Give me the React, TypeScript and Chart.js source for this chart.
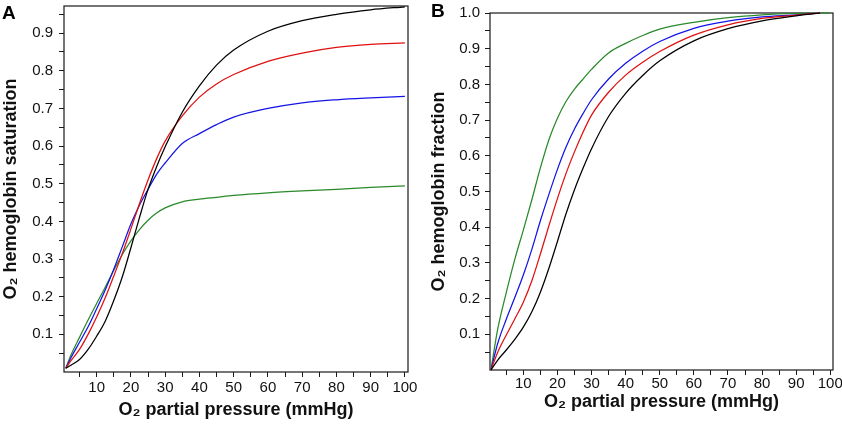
import React, { useEffect, useRef } from "react";
import { Chart, registerables } from "chart.js";

Chart.register(...registerables);

// ---------- Panel A data ----------
const xA = [1, 2.5, 5, 7.5, 10, 12.5, 15, 17.5, 20, 22.5, 25, 27.5, 30, 35, 40, 45, 50, 60, 70, 80, 90, 100];
const blackA = [0.01, 0.018, 0.033, 0.06, 0.095, 0.135, 0.19, 0.253, 0.33, 0.41, 0.485, 0.545, 0.598, 0.69, 0.76, 0.815, 0.855, 0.905, 0.933, 0.95, 0.962, 0.97];
const redA = [0.01, 0.03, 0.06, 0.1, 0.146, 0.197, 0.255, 0.315, 0.38, 0.447, 0.51, 0.566, 0.613, 0.68, 0.73, 0.765, 0.79, 0.825, 0.847, 0.862, 0.87, 0.874];
const blueA = [0.01, 0.038, 0.079, 0.12, 0.168, 0.218, 0.273, 0.333, 0.393, 0.443, 0.485, 0.525, 0.555, 0.607, 0.633, 0.657, 0.677, 0.7, 0.715, 0.723, 0.728, 0.732];
const greenA = [0.01, 0.045, 0.092, 0.138, 0.182, 0.225, 0.27, 0.312, 0.348, 0.378, 0.403, 0.422, 0.436, 0.452, 0.459, 0.464, 0.469, 0.476, 0.481, 0.485, 0.49, 0.494];

// ---------- Panel B data ----------
const xB = [0.5, 2.5, 5, 7.5, 10, 12.5, 15, 17.5, 20, 22.5, 25, 27.5, 30, 35, 40, 45, 50, 60, 70, 80, 90, 97];
const xBGreen = [0.5, 2.5, 5, 7.5, 10, 12.5, 15, 17.5, 20, 22.5, 25, 27.5, 30, 35, 40, 45, 50, 60, 70, 80, 90, 100];
const blackB = [0, 0.028, 0.056, 0.086, 0.12, 0.163, 0.218, 0.285, 0.36, 0.437, 0.505, 0.565, 0.62, 0.71, 0.775, 0.825, 0.866, 0.922, 0.956, 0.978, 0.992, 1.0];
const redB = [0, 0.05, 0.098, 0.143, 0.19, 0.25, 0.325, 0.404, 0.48, 0.55, 0.611, 0.666, 0.714, 0.778, 0.826, 0.862, 0.892, 0.938, 0.967, 0.985, 0.994, 1.0];
const blueB = [0, 0.075, 0.142, 0.203, 0.266, 0.338, 0.418, 0.492, 0.562, 0.624, 0.675, 0.718, 0.757, 0.815, 0.859, 0.893, 0.92, 0.957, 0.977, 0.989, 0.995, 1.0];
const greenB = [0, 0.115, 0.217, 0.31, 0.392, 0.477, 0.566, 0.645, 0.705, 0.752, 0.787, 0.815, 0.842, 0.888, 0.915, 0.937, 0.955, 0.974, 0.987, 0.995, 0.999, 1.0];

// ---------- Ticks ----------
const xTickValues = [5, 10, 15, 20, 25, 30, 35, 40, 45, 50, 55, 60, 65, 70, 75, 80, 85, 90, 95, 100];
const yTicksA = [0.05, 0.1, 0.15, 0.2, 0.25, 0.3, 0.35, 0.4, 0.45, 0.5, 0.55, 0.6, 0.65, 0.7, 0.75, 0.8, 0.85, 0.9, 0.95];
const yTicksB = [0.05, 0.1, 0.15, 0.2, 0.25, 0.3, 0.35, 0.4, 0.45, 0.5, 0.55, 0.6, 0.65, 0.7, 0.75, 0.8, 0.85, 0.9, 0.95, 1.0];

const xTitle = "O\u2082 partial pressure (mmHg)";
const yTitleA = "O\u2082 hemoglobin saturation";
const yTitleB = "O\u2082 hemoglobin fraction";

const COLORS = { black: "#000000", red: "#e01010", blue: "#1414e6", green: "#2a8a2a" };
const FONT = "'Liberation Sans', Arial, Helvetica, sans-serif";

const framePlugin = {
  id: "frame",
  beforeDatasetsDraw(chart: any) {
    const { ctx, chartArea } = chart;
    const { left, top, right, bottom } = chartArea;
    ctx.save();
    ctx.strokeStyle = "#1a1a1a";
    ctx.lineWidth = 1.2;
    ctx.strokeRect(left, top, right - left, bottom - top);
    ctx.restore();
  },
};

function toPts(xs: number[], ys: number[]) {
  return xs.map((x, i) => ({ x, y: ys[i] }));
}

function ds(xs: number[], ys: number[], color: string) {
  return {
    data: toPts(xs, ys),
    borderColor: color,
    backgroundColor: color,
    borderWidth: 1.25,
    pointRadius: 0,
    cubicInterpolationMode: "monotone" as const,
    fill: false,
    clip: false as any,
  };
}

type PanelProps = {
  width: number;
  datasets: any[];
  xMin: number;
  xMax: number;
  yMax: number;
  yTicks: number[];
  yTitle: string;
  yAxisWidth: number;
  xAxisHeight: number;
  padTop: number;
  padRight: number;
  xLabelPad: number;
  yLabelPad: number;
  xTitlePad: number;
  yTitlePad: number;
};

function Panel(p: PanelProps) {
  const ref = useRef<HTMLCanvasElement | null>(null);
  useEffect(() => {
    if (!ref.current) return;
    const chart = new Chart(ref.current, {
      type: "line",
      data: { datasets: p.datasets },
      plugins: [framePlugin],
      options: {
        animation: false,
        responsive: false,
        devicePixelRatio: 1,
        layout: { padding: { left: 0, top: p.padTop, right: p.padRight, bottom: 0 } },
        plugins: { legend: { display: false }, tooltip: { enabled: false } },
        scales: {
          x: {
            type: "linear",
            min: p.xMin,
            max: p.xMax,
            afterBuildTicks: (scale: any) => {
              scale.ticks = xTickValues.map((v) => ({ value: v }));
            },
            afterFit: (scale: any) => {
              scale.height = p.xAxisHeight;
              scale.paddingLeft = 0;
              scale.paddingRight = 0;
            },
            border: { display: false },
            grid: {
              display: true,
              drawOnChartArea: false,
              drawTicks: true,
              tickLength: 5,
              color: "#1a1a1a",
              lineWidth: 1,
            },
            ticks: {
              autoSkip: false,
              maxRotation: 0,
              padding: p.xLabelPad,
              color: "#111",
              font: { family: FONT, size: 15 },
              callback: (v: any) => (Math.round(v) % 10 === 0 ? String(Math.round(v)) : ""),
            },
            title: {
              display: true,
              text: xTitle,
              color: "#111",
              font: { family: FONT, size: 18, weight: "bold" },
              padding: { top: 0, bottom: p.xTitlePad },
            },
          },
          y: {
            type: "linear",
            min: 0,
            max: p.yMax,
            afterBuildTicks: (scale: any) => {
              scale.ticks = p.yTicks.map((v) => ({ value: v }));
            },
            afterFit: (scale: any) => {
              scale.width = p.yAxisWidth;
              scale.paddingTop = 0;
              scale.paddingBottom = 0;
            },
            border: { display: false },
            grid: {
              display: true,
              drawOnChartArea: false,
              drawTicks: true,
              tickLength: 5,
              color: "#1a1a1a",
              lineWidth: 1,
            },
            ticks: {
              autoSkip: false,
              padding: p.yLabelPad,
              color: "#111",
              font: { family: FONT, size: 15 },
              callback: (v: any) => {
                const t = Math.round(v * 100);
                return t % 10 === 0 ? (t / 100).toFixed(1) : "";
              },
            },
            title: {
              display: true,
              text: p.yTitle,
              color: "#111",
              font: { family: FONT, size: 18, weight: "bold" },
              padding: { top: p.yTitlePad, bottom: 0 },
            },
          },
        },
      } as any,
    });
    return () => chart.destroy();
  }, []);
  return <canvas ref={ref} width={p.width} height={424} style={{ display: "block" }} />;
}

export default function App() {
  const labelStyle: React.CSSProperties = {
    position: "absolute",
    fontFamily: FONT,
    fontWeight: "bold",
    fontSize: 19,
    lineHeight: "19px",
    color: "#000",
  };
  return (
    <div style={{ position: "absolute", left: 0, top: 0, width: 842, height: 424, background: "#fff", overflow: "hidden" }}>
      <div style={{ position: "absolute", left: 0, top: 0 }}>
        <Panel
          width={420}
          datasets={[
            ds(xA, blackA, COLORS.black),
            ds(xA, redA, COLORS.red),
            ds(xA, blueA, COLORS.blue),
            ds(xA, greenA, COLORS.green),
          ]}
          xMin={0.47}
          xMax={100.9}
          yMax={0.972}
          yTicks={yTicksA}
          yTitle={yTitleA}
          yAxisWidth={64}
          xAxisHeight={52}
          padTop={6}
          padRight={12}
          xLabelPad={2}
          yLabelPad={6}
          xTitlePad={3}
          yTitlePad={0}
        />
      </div>
      <div style={{ position: "absolute", left: 420, top: 0 }}>
        <Panel
          width={422}
          datasets={[
            ds(xB, blackB, COLORS.black),
            ds(xB, redB, COLORS.red),
            ds(xB, blueB, COLORS.blue),
            ds(xBGreen, greenB, COLORS.green),
          ]}
          xMin={0.23}
          xMax={100.8}
          yMax={1.0}
          yTicks={yTicksB}
          yTitle={yTitleB}
          yAxisWidth={70}
          xAxisHeight={54}
          padTop={13}
          padRight={9}
          xLabelPad={0}
          yLabelPad={5}
          xTitlePad={11}
          yTitlePad={8}
        />
      </div>
      <div style={{ ...labelStyle, left: 2, top: 3 }}>A</div>
      <div style={{ ...labelStyle, left: 431, top: 1 }}>B</div>
    </div>
  );
}
